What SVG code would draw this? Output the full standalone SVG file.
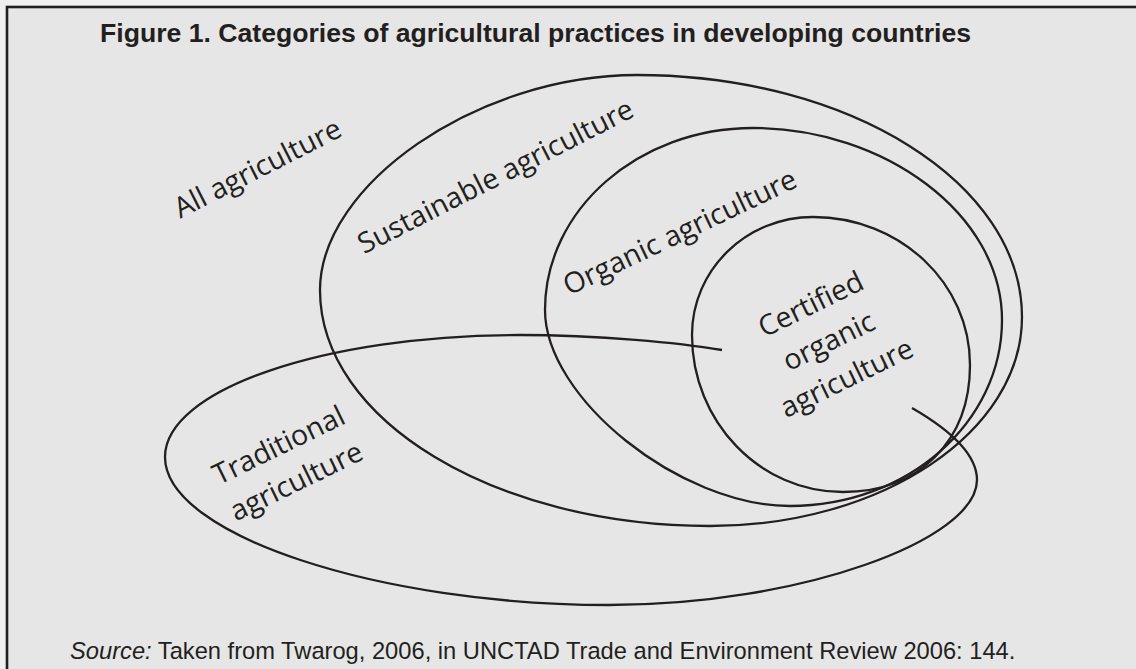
<svg xmlns="http://www.w3.org/2000/svg" width="1136" height="669" viewBox="0 0 1136 669">
  <style>
    .curve { fill: none; stroke: #231f20; stroke-width: 2.3; }
    .lbl { font-family: "Open Sans", "Noto Sans", sans-serif; font-size: 28.5px; fill: #231f20; text-anchor: middle; }
    .title { font-family: "Liberation Sans", Arial, sans-serif; font-weight: bold; font-size: 26.6px; fill: #231f20; }
    .src { font-family: "Liberation Sans", Arial, sans-serif; font-size: 23.7px; fill: #231f20; }
  </style>
  <rect x="0" y="0" width="1136" height="669" fill="#f0f0f0"/>
  <rect x="7" y="7" width="1140" height="680" fill="#e6e6e6" stroke="#231f20" stroke-width="2.6"/>
  <text class="title" x="100" y="42" textLength="871" lengthAdjust="spacingAndGlyphs">Figure 1. Categories of agricultural practices in developing countries</text>

  <g id="all-agriculture">
    <text class="lbl" transform="translate(262,177) rotate(-27)" x="0" y="0">All agriculture</text>
  </g>
  <g id="sustainable-agriculture">
    <path class="curve" d="M 637,75 C 849,75 1022,183 1022,317 C 1022,432 882,526 710,526 C 495,526 320,420 320,290 C 320,185 477,75 637,75 Z"/>
    <text class="lbl" transform="translate(500,185) rotate(-27)" x="0" y="0">Sustainable agriculture</text>
  </g>
  <g id="organic-agriculture">
    <path class="curve" d="M 753,128 C 884,128 1002,214 1002,320 C 1002,423 907,506 790,506 C 680,506 545,398 545,310 C 545,210 638,128 753,128 Z"/>
    <text class="lbl" transform="translate(684,241) rotate(-25.5)" x="0" y="0">Organic agriculture</text>
  </g>
  <g id="certified-organic-agriculture">
    <path class="curve" d="M 813,217 C 900,217 970,283 970,365 C 970,441 919,492 843,492 C 760,492 692,422 692,335 C 692,270 746,217 813,217 Z"/>
    <g transform="translate(815,313) rotate(-26)">
      <text class="lbl" x="0" y="0">Certified</text>
      <text class="lbl" x="0" y="41">organic</text>
      <text class="lbl" x="0" y="82">agriculture</text>
    </g>
  </g>
  <g id="traditional-agriculture">
    <path class="curve" d="M 912,408 C 945,427 977,452 977,480 C 977,540 800,605 609,605 C 380,605 165,535 165,457 C 165,390 324,335 520,335 C 600,335 680,343 722,350"/>
    <g transform="translate(283,454) rotate(-26)">
      <text class="lbl" x="0" y="0">Traditional</text>
      <text class="lbl" x="0" y="40">agriculture</text>
    </g>
  </g>
  <g id="connectors"/>

  <text class="src" x="70" y="659"><tspan font-style="italic">Source:</tspan> Taken from Twarog, 2006, in UNCTAD Trade and Environment Review 2006: 144.</text>
</svg>
